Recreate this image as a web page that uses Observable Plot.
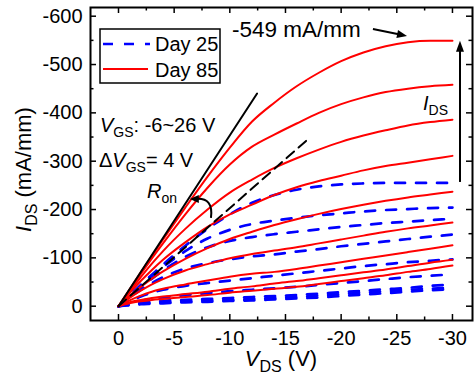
<!DOCTYPE html>
<html><head><meta charset="utf-8">
<script src="https://cdn.jsdelivr.net/npm/d3@7"></script>
<script src="https://cdn.jsdelivr.net/npm/@observablehq/plot@0.6"></script>
<style>body{margin:0;background:#fff} svg{display:block}</style>
</head><body><div id="chart"></div>
<script>
// V_DS sample points (V)
const vds = [0,-1,-2,-3,-4,-6,-8,-10,-12,-14,-16,-18,-20,-22,-24,-26,-28,-30];
// V_GS values (V), top curve first
const vgsList = [-6,-2,2,6,10,14,18,22,26];

// Day 85 (red, solid) I_DS (mA/mm)
const day85_vgsM6 = [0,-35,-70,-104,-138,-204,-268,-328,-382,-421,-455,-483,-507,-525,-538,-546,-549,-549];
const day85_vgsM2 = [0,-34,-67,-99,-130,-190,-245,-293,-330,-355,-378,-400,-418,-432,-443,-450,-455,-458];
const day85_vgs2  = [0,-31,-60,-88,-114,-160,-200,-235,-262,-286,-306,-324,-340,-353,-364,-374,-381,-386];
const day85_vgs6  = [0,-27,-52,-75,-96,-132,-164,-190,-210,-230,-246,-259,-270,-281,-290,-297,-304,-311];
const day85_vgs10 = [0,-21,-40,-57,-72,-98,-120,-139,-154,-168,-180,-191,-201,-210,-218,-225,-231,-237];
const day85_vgs14 = [0,-17,-32,-45,-56,-74,-87,-99,-108,-115,-122,-130,-138,-146,-154,-161,-167,-173];
const day85_vgs18 = [0,-12,-22,-30,-36,-45,-53,-61,-67,-71,-77,-84,-91,-98,-105,-112,-119,-126];
const day85_vgs22 = [0,-8,-13,-17,-20,-25,-30,-36,-41,-47,-52,-58,-64,-70,-76,-83,-90,-96];
const day85_vgs26 = [0,-6,-10,-13,-15,-19,-23,-28,-32,-36,-40,-46,-52,-58,-64,-71,-77,-84];

// Day 25 (blue, dashed) I_DS (mA/mm)
const day25_vgsM6 = [0,-22,-44,-65,-86,-125,-160,-190,-214,-230,-241,-248,-252,-254,-255,-255,-255,-255];
const day25_vgsM2 = [0,-21,-42,-62,-81,-114,-140,-158,-170,-177,-183,-188,-192,-196,-199,-201,-203,-204];
const day25_vgs2  = [0,-20,-39,-57,-74,-102,-122,-135,-143,-149,-154,-159,-164,-168,-172,-175,-178,-181];
const day25_vgs6  = [0,-18,-34,-48,-60,-78,-89,-97,-103,-107,-113,-118,-124,-129,-134,-139,-144,-148];
const day25_vgs10 = [0,-10,-20,-28,-34,-42,-48,-53,-58,-63,-68,-73,-78,-83,-87,-91,-94,-97];
const day25_vgs14 = [0,-6,-11,-15,-18,-23,-27,-31,-34,-37,-40,-44,-48,-52,-56,-60,-63,-66];
const day25_vgs18 = [0,-4,-7,-9,-11,-13,-15,-17,-19,-21,-23,-26,-29,-32,-35,-38,-42,-45];
const day25_vgs22 = [0,-3,-5,-7,-8,-10,-12,-13,-15,-17,-19,-22,-25,-28,-31,-34,-36,-39];
const day25_vgs26 = [0,-2,-4,-5,-6,-8,-9,-11,-12,-14,-16,-18,-21,-24,-27,-30,-33,-35];

// R_on guide lines (V_DS, I_DS)
const ronSolidV = [0,-12.45], ronSolidI = [0,-440];
const ronDashV  = [0,-16.9],  ronDashI  = [0,-343];

// Axis ticks
const xMajor = [0,-5,-10,-15,-20,-25,-30];
const xMinor = [-2.5,-7.5,-12.5,-17.5,-22.5,-27.5];
const yMajor = [0,-100,-200,-300,-400,-500,-600];
const yMinor = [-50,-150,-250,-350,-450,-550];

const day85Series = [day85_vgsM6,day85_vgsM2,day85_vgs2,day85_vgs6,day85_vgs10,day85_vgs14,day85_vgs18,day85_vgs22,day85_vgs26];
const day25Series = [day25_vgsM6,day25_vgsM2,day25_vgs2,day25_vgs6,day25_vgs10,day25_vgs14,day25_vgs18,day25_vgs22,day25_vgs26];
const toRows = series => series.flatMap((arr, k) => arr.map((ids, i) => ({vds: vds[i], ids, vgs: vgsList[k]})));
const rows85 = toRows(day85Series);
const rows25 = toRows(day25Series);
const ronSolid = ronSolidV.map((v, i) => ({vds: v, ids: ronSolidI[i]}));
const ronDash = ronDashV.map((v, i) => ({vds: v, ids: ronDashI[i]}));

const W = 474, H = 380, mL = 90, mR = 2, mT = 7, mB = 60;
const fW = W - mL - mR, fH = H - mT - mB;
const FONT = "'Liberation Sans', Arial, Helvetica, sans-serif";

const chart = Plot.plot({
  width: W, height: H,
  marginLeft: mL, marginRight: mR, marginTop: mT, marginBottom: mB,
  style: {fontFamily: FONT, fontSize: "20px", color: "#000", background: "#fff"},
  x: {domain: [2.515, -31.8]},
  y: {domain: [29.6, -618]},
  marks: [
    Plot.line(rows25, {x: "vds", y: "ids", z: "vgs", stroke: "#0000ff", strokeWidth: 2.7, strokeDasharray: "10,11", curve: "monotone-x"}),
    Plot.line(rows85, {x: "vds", y: "ids", z: "vgs", stroke: "#ff0000", strokeWidth: 2, curve: "monotone-x"}),
    Plot.line(ronSolid, {x: "vds", y: "ids", stroke: "#000", strokeWidth: 2}),
    Plot.line(ronDash, {x: "vds", y: "ids", stroke: "#000", strokeWidth: 2, strokeDasharray: "10,6"}),
    // inward ticks on all four sides
    Plot.ruleX(xMajor, {x: d => d, insetTop: fH - 6, strokeWidth: 1.5}),
    Plot.ruleX(xMinor, {x: d => d, insetTop: fH - 3.5, strokeWidth: 1.5}),
    Plot.ruleX(xMajor, {x: d => d, insetBottom: fH - 6, strokeWidth: 1.5}),
    Plot.ruleX(xMinor, {x: d => d, insetBottom: fH - 3.5, strokeWidth: 1.5}),
    Plot.ruleY(yMajor, {y: d => d, insetRight: fW - 6, strokeWidth: 1.5}),
    Plot.ruleY(yMinor, {y: d => d, insetRight: fW - 3.5, strokeWidth: 1.5}),
    Plot.ruleY(yMajor, {y: d => d, insetLeft: fW - 6, strokeWidth: 1.5}),
    Plot.ruleY(yMinor, {y: d => d, insetLeft: fW - 3.5, strokeWidth: 1.5}),
    Plot.axisX(xMajor, {tickSize: 0, tickPadding: 10, tickFormat: d => String(d), fontSize: 20, label: null}),
    Plot.axisY(yMajor, {tickSize: 0, tickPadding: 8, tickFormat: d => String(d), fontSize: 20, label: null}),
    Plot.frame({strokeWidth: 2})
  ]
});
document.getElementById("chart").appendChild(chart);

// ---- annotations (positions given in data units, mapped through the plot's scales)
const sx = v => chart.scale("x").apply(v);
const sy = v => chart.scale("y").apply(v);
const svg = d3.select(chart);
const g = svg.append("g").attr("font-family", FONT).attr("fill", "#000").attr("text-anchor", "start");

function rich(parent, x, y, parts, size, opts = {}) {
  const t = parent.append("text").attr("x", x).attr("y", y).attr("font-size", size).attr("text-anchor", opts.anchor || "start");
  if (opts.transform) t.attr("transform", opts.transform).attr("x", 0).attr("y", 0);
  let shift = 0;
  const subSize = Math.round(size * 0.72), subDy = Math.round(size * 0.27);
  for (const p of parts) {
    const s = t.append("tspan").text(p.t);
    if (p.i) s.attr("font-style", "italic");
    if (p.sub) { s.attr("font-size", subSize).attr("dy", subDy - shift); shift = subDy; }
    else { if (shift) s.attr("dy", -shift); shift = 0; }
  }
  return t;
}
function head(parent, tx, ty, angleDeg, L = 10, Wd = 8) {
  const a = angleDeg * Math.PI / 180;
  const ux = Math.cos(a), uy = Math.sin(a);
  const bx = tx - ux * L, by = ty - uy * L;
  const px = -uy * Wd / 2, py = ux * Wd / 2;
  parent.append("path").attr("d", `M${tx},${ty}L${bx + px},${by + py}L${bx - px},${by - py}Z`).attr("fill", "#000");
}

// axis titles
rich(g, 0, 0, [{t: "V", i: true}, {t: "DS", sub: true}, {t: " (V)"}], 22, {anchor: "middle", transform: `translate(${(mL + W - mR) / 2},366)`});
rich(g, 0, 0, [{t: "I", i: true}, {t: "DS", sub: true}, {t: " (mA/mm)"}], 22, {anchor: "middle", transform: `translate(31,${mT + fH / 2 + 6}) rotate(-90)`});

// legend
const lg = g.append("g");
lg.append("rect").attr("x", 100).attr("y", 29).attr("width", 120).attr("height", 54).attr("fill", "#fff").attr("stroke", "#000").attr("stroke-width", 1.5);
lg.append("line").attr("x1", 103).attr("x2", 150).attr("y1", 44).attr("y2", 44).attr("stroke", "#0000ff").attr("stroke-width", 2.7).attr("stroke-dasharray", "10,11");
lg.append("line").attr("x1", 103).attr("x2", 148).attr("y1", 69).attr("y2", 69).attr("stroke", "#ff0000").attr("stroke-width", 2);
lg.append("text").attr("x", 155).attr("y", 51).attr("font-size", 20).attr("text-anchor", "start").text("Day 25");
lg.append("text").attr("x", 155).attr("y", 77).attr("font-size", 20).attr("text-anchor", "start").text("Day 85");

// condition labels
rich(g, sx(1.62), sy(-359), [{t: "V", i: true}, {t: "GS", sub: true}, {t: ": -6~26 V"}], 20);
rich(g, sx(1.71), sy(-287), [{t: "\u0394"}, {t: "V", i: true}, {t: "GS", sub: true}, {t: "= 4 V"}], 20);
rich(g, sx(-2.6), sy(-223), [{t: "R", i: true}, {t: "on", sub: true}], 20);
rich(g, sx(-27.4), sy(-405), [{t: "I", i: true}, {t: "DS", sub: true}], 20);
g.append("text").attr("x", sx(-10.24)).attr("y", sy(-555)).attr("font-size", 22.5).attr("text-anchor", "start").text("-549 mA/mm");

// arrow to the -549 mA/mm point
{
  const x1 = sx(-22.9), y1 = sy(-572.5), x2 = sx(-25.96), y2 = sy(-558);
  const ang = Math.atan2(y2 - y1, x2 - x1) * 180 / Math.PI;
  g.append("line").attr("x1", x1).attr("y1", y1).attr("x2", x2 - 6 * Math.cos(ang * Math.PI / 180)).attr("y2", y2 - 6 * Math.sin(ang * Math.PI / 180)).attr("stroke", "#000").attr("stroke-width", 2);
  head(g, x2, y2, ang, 10, 8);
}
// vertical I_DS arrow
{
  const x = sx(-30.72), y1 = sy(-256), y2 = sy(-548);
  g.append("line").attr("x1", x).attr("x2", x).attr("y1", y1).attr("y2", y2 + 6).attr("stroke", "#000").attr("stroke-width", 2);
  head(g, x, y2, -90, 11, 8);
}
// curved R_on arrow
{
  const x1 = sx(-8.35), y1 = sy(-181.5), x2 = sx(-6.45), y2 = sy(-220.8);
  const cx = sx(-8.6), cy = sy(-224);
  g.append("path").attr("d", `M${x1},${y1}Q${cx},${cy} ${x2 + 6},${y2}`).attr("fill", "none").attr("stroke", "#000").attr("stroke-width", 2);
  head(g, x2, y2, 180, 9, 8);
}
</script></body></html>
